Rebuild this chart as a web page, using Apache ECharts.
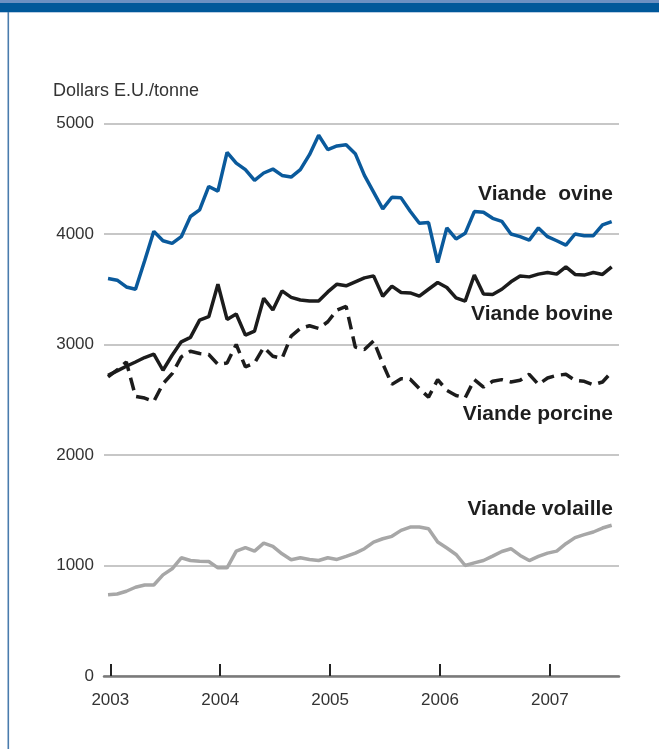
<!DOCTYPE html>
<html>
<head>
<meta charset="utf-8">
<script src="https://cdn.jsdelivr.net/npm/echarts@6/dist/echarts.min.js"></script>
<style>
html,body{margin:0;padding:0;background:#fff;}
#chart{width:659px;height:749px;}
</style>
</head>
<body>
<div id="chart"></div>
<script>
// Monthly series, January 2003 to August 2007 (56 months)
const yearLabels = ['2003', '2004', '2005', '2006', '2007'];
const yearTickMonths = [0.25, 12.25, 24.25, 36.25, 48.25];

const ovine = [3597, 3582, 3521, 3500, 3758, 4024, 3939, 3915, 3976, 4158, 4218, 4430,
  4388, 4739, 4642, 4582, 4485, 4552, 4588, 4530, 4515, 4582, 4718, 4894,
  4764, 4797, 4807, 4727, 4530, 4379, 4227, 4333, 4327, 4206, 4097, 4103,
  3742, 4055, 3955, 4006, 4203, 4197, 4142, 4115, 4000, 3976, 3945, 4055,
  3976, 3939, 3900, 4000, 3985, 3985, 4082, 4112];

const bovine = [2721, 2761, 2803, 2842, 2882, 2912, 2767, 2903, 3024, 3064, 3221, 3252,
  3545, 3227, 3276, 3085, 3121, 3418, 3312, 3485, 3427, 3403, 3394, 3394,
  3476, 3546, 3531, 3567, 3603, 3621, 3437, 3528, 3471, 3467, 3437, 3500,
  3561, 3516, 3422, 3392, 3628, 3456, 3453, 3500, 3567, 3619, 3612, 3637,
  3652, 3637, 3703, 3634, 3628, 3652, 3634, 3703];

const porcine = [2706, 2770, 2842, 2530, 2515, 2485, 2645, 2736, 2888, 2939, 2918, 2909,
  2821, 2833, 3000, 2797, 2833, 2973, 2894, 2873, 3076, 3145, 3170, 3145,
  3206, 3312, 3345, 2976, 2955, 3033, 2827, 2639, 2691, 2685, 2600, 2524,
  2682, 2585, 2539, 2518, 2682, 2615, 2667, 2682, 2661, 2676, 2730, 2639,
  2697, 2721, 2730, 2676, 2667, 2636, 2661, 2752];

const volaille = [736, 742, 767, 803, 824, 824, 915, 970, 1070, 1045, 1039, 1036,
  979, 979, 1130, 1161, 1130, 1203, 1173, 1106, 1052, 1070, 1055, 1045,
  1070, 1055, 1082, 1112, 1152, 1212, 1242, 1264, 1318, 1348, 1348, 1333,
  1212, 1158, 1100, 1000, 1024, 1045, 1085, 1127, 1152, 1091, 1045, 1082,
  1112, 1130, 1197, 1252, 1279, 1303, 1339, 1364];

const seriesNames = ['Viande  ovine', 'Viande bovine', 'Viande porcine', 'Viande volaille'];
const unitLabel = 'Dollars E.U./tonne';

const toPairs = arr => arr.map((v, i) => [i, v]);

const FONT = 'Liberation Sans, Arial, sans-serif';
const chart = echarts.init(document.getElementById('chart'), null, {renderer: 'canvas'});

const lineBase = {type: 'line', showSymbol: false, symbol: 'none', animation: false, silent: true};

chart.setOption({
  backgroundColor: '#ffffff',
  animation: false,
  grid: {left: 104, right: 40, top: 123.5, bottom: 73, containLabel: false},
  xAxis: {
    type: 'value', min: -0.44, max: 55.8,
    splitLine: {show: false},
    axisLine: {show: true, lineStyle: {color: '#7a7a7a', width: 2.5}},
    axisTick: {show: true, inside: true, length: 12, customValues: yearTickMonths,
      lineStyle: {color: '#222', width: 2}},
    axisLabel: {show: true, customValues: yearTickMonths, margin: 16,
      fontSize: 17, color: '#333', fontFamily: FONT,
      formatter: v => yearLabels[Math.round((v - 0.25) / 12)]}
  },
  yAxis: {
    type: 'value', min: 0, max: 5000, interval: 1000,
    axisLine: {show: false}, axisTick: {show: false},
    splitLine: {show: true, lineStyle: {color: '#b5b5b5', width: 1.5}},
    axisLabel: {margin: 10, fontSize: 17, color: '#333', fontFamily: FONT,
      formatter: v => String(v)}
  },
  graphic: [
    {type: 'rect', shape: {x: 0, y: 0, width: 659, height: 3}, style: {fill: '#6b90c2'}},
    {type: 'rect', shape: {x: 0, y: 3, width: 659, height: 9}, style: {fill: '#00589a'}},
    {type: 'rect', shape: {x: 0, y: 12, width: 659, height: 1}, style: {fill: '#b9cde3'}},
    {type: 'rect', shape: {x: 7.5, y: 12, width: 1.6, height: 737}, style: {fill: '#4a7cad'}},
    {type: 'text', left: 53, top: 82, style: {text: unitLabel, font: '18px ' + FONT, fill: '#333'}},
    {type: 'text', right: 46, top: 184, style: {text: seriesNames[0], font: 'bold 21px ' + FONT, fill: '#1e1e1e', textAlign: 'right'}},
    {type: 'text', right: 46, top: 304, style: {text: seriesNames[1], font: 'bold 21px ' + FONT, fill: '#1e1e1e', textAlign: 'right'}},
    {type: 'text', right: 46, top: 404, style: {text: seriesNames[2], font: 'bold 21px ' + FONT, fill: '#1e1e1e', textAlign: 'right'}},
    {type: 'text', right: 46, top: 499, style: {text: seriesNames[3], font: 'bold 21px ' + FONT, fill: '#1e1e1e', textAlign: 'right'}}
  ],
  series: [
    Object.assign({}, lineBase, {name: seriesNames[3], data: toPairs(volaille), z: 2,
      lineStyle: {color: '#a7a7a7', width: 3.5}}),
    Object.assign({}, lineBase, {name: seriesNames[2], data: toPairs(porcine), z: 3,
      lineStyle: {color: '#1c1c1c', width: 3.5, type: [13, 7]}}),
    Object.assign({}, lineBase, {name: seriesNames[1], data: toPairs(bovine), z: 4,
      lineStyle: {color: '#1c1c1c', width: 3.5}}),
    Object.assign({}, lineBase, {name: seriesNames[0], data: toPairs(ovine), z: 5,
      lineStyle: {color: '#0a5a9c', width: 3.5}})
  ]
});
</script>
</body>
</html>
